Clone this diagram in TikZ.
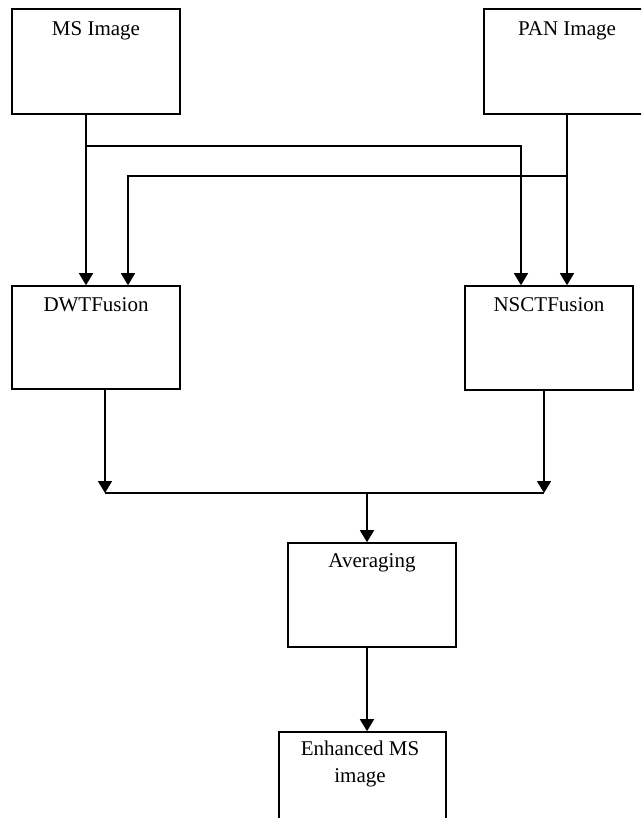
\documentclass[tikz,border=0pt]{standalone}
\usepackage{fontspec}
\setmainfont{Liberation Serif}
\usetikzlibrary{arrows.meta}
\begin{document}
\begin{tikzpicture}[x=1pt, y=-1pt,
  box/.style={draw, line width=1.6pt, rectangle, inner sep=0pt},
  lbl/.style={anchor=base, font=\fontsize{21}{27}\selectfont, align=center, inner sep=0pt},
  wire/.style={line width=1.6pt},
  arr/.style={line width=1.6pt, -{Triangle[width=14pt,length=12pt]}}]
  \useasboundingbox (0,0) rectangle (641,818);
  \fill[white] (0,0) rectangle (641,818);
  \clip (0,0) rectangle (641,818);

  % processing blocks
  \node[box, minimum width=168pt, minimum height=105pt,
        label={[lbl, yshift=-27pt]north:MS Image}] (ms) at (96,61.5) {};
  \node[box, minimum width=166pt, minimum height=105pt,
        label={[lbl, yshift=-27pt]north:PAN Image}] (pan) at (567,61.5) {};
  \node[box, minimum width=168pt, minimum height=103pt,
        label={[lbl, yshift=-26pt]north:DWTFusion}] (dwt) at (96,337.5) {};
  \node[box, minimum width=168pt, minimum height=104pt,
        label={[lbl, yshift=-26pt]north:NSCTFusion}] (nsct) at (549,338) {};
  \node[box, minimum width=168pt, minimum height=104pt,
        label={[lbl, yshift=-25pt]north:Averaging}] (avg) at (372,595) {};
  \node[box, minimum width=167pt, minimum height=104pt] (enh) at (362.5,784) {};
  \node[lbl] (enhtxt) at (360,782) {Enhanced MS\\image};

  % branch points and bends
  \coordinate (msx) at (86,0);
  \coordinate (panx) at (567,0);
  \coordinate (dwtx) at (128,0);
  \coordinate (nsctx) at (521,0);
  \coordinate (jms) at (86,146);
  \coordinate (jpan) at (567,176);
  \coordinate (bl) at (105,493);
  \coordinate (br) at (544,493);
  \coordinate (jmid) at (367,493);

  % inputs to the two fusion blocks
  \draw[arr] (ms.south -| msx) -- (dwt.north -| msx);
  \draw[arr] (jms) -| (nsct.north -| nsctx);
  \draw[arr] (pan.south -| panx) -- (nsct.north -| panx);
  \draw[arr] (jpan) -| (dwt.north -| dwtx);

  % fusion outputs merged into averaging
  \draw[arr] (dwt.south -| bl) -- (bl);
  \draw[arr] (nsct.south -| br) -- (br);
  \draw[wire] (bl) -- (br);
  \draw[arr] (jmid) -- (avg.north -| jmid);
  \draw[arr] (avg.south -| jmid) -- (enh.north -| jmid);
\end{tikzpicture}
\end{document}
